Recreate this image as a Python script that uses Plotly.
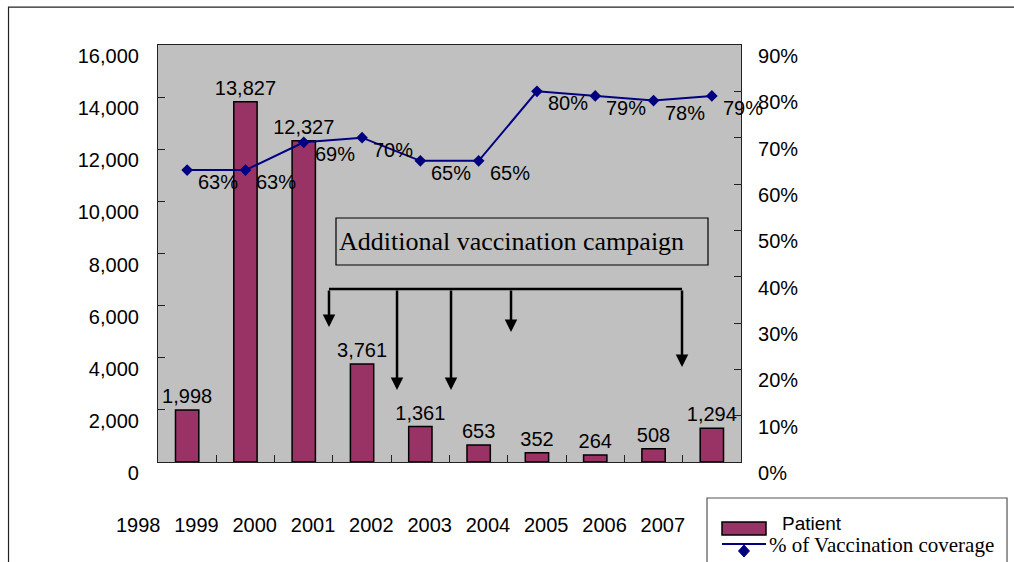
import plotly.graph_objects as go

# ---- data ----
years = ["1998", "1999", "2000", "2001", "2002", "2003", "2004", "2005", "2006", "2007"]
patients = [1998, 13827, 12327, 3761, 1361, 653, 352, 264, 508, 1294]
coverage = [0.63, 0.63, 0.69, 0.70, 0.65, 0.65, 0.80, 0.79, 0.78, 0.79]
coverage_labels = ["63%", "63%", "69%", "70%", "65%", "65%", "80%", "79%", "78%", "79%"]

SANS = "Liberation Sans"
SERIF = "Liberation Serif"
BAR_COLOR = "#993366"
LINE_COLOR = "#000080"
AX_COLOR = "#222222"

fig = go.Figure()

fig.add_trace(go.Bar(
    x=years, y=patients, name="Patient", width=0.4,
    marker=dict(color=BAR_COLOR, line=dict(color="black", width=1.5)),
    text=[f"{v:,}" for v in patients], textposition="outside",
    textfont=dict(family=SANS, size=20, color="black"),
    constraintext="none",
    cliponaxis=False, showlegend=False,
))

fig.add_trace(go.Scatter(
    x=years, y=coverage, name="% of Vaccination coverage", yaxis="y2",
    mode="lines+markers",
    line=dict(color=LINE_COLOR, width=2),
    marker=dict(symbol="diamond", size=9, color=LINE_COLOR),
    showlegend=False, cliponaxis=False,
))

annotations = []
# percentage labels to the lower right of each point
for i, lab in enumerate(coverage_labels):
    annotations.append(dict(
        x=i, y=coverage[i], xref="x", yref="y2", text=lab, showarrow=False,
        xshift=31, yshift=-12, font=dict(family=SANS, size=20, color="black"),
    ))

# campaign text box
annotations.append(dict(
    x=2.57, y=8460, xref="x", yref="y", text="Additional vaccination campaign",
    showarrow=False, xanchor="left", yanchor="middle",
    font=dict(family=SERIF, size=26, color="black"),
))

# campaign arrows
arrow_x = [2.433, 3.60, 4.526, 5.555, 8.488]
arrow_tip = [5180, 2763, 2763, 4988, 3645]
arrow_top = 6638
for ax_, tip in zip(arrow_x, arrow_tip):
    annotations.append(dict(
        x=ax_, y=tip, xref="x", yref="y", ax=ax_, ay=arrow_top, axref="x", ayref="y",
        text="", showarrow=True, arrowhead=2, arrowsize=1, arrowwidth=2.5,
        arrowcolor="black", standoff=0, startstandoff=0,
    ))

# custom legend texts
annotations.append(dict(
    x=1.0669, y=-0.1463, xref="paper", yref="paper", text="Patient",
    showarrow=False, xanchor="left", yanchor="middle",
    font=dict(family=SANS, size=19, color="black"),
))
annotations.append(dict(
    x=1.0446, y=-0.199, xref="paper", yref="paper", text="% of Vaccination coverage",
    showarrow=False, xanchor="left", yanchor="middle",
    font=dict(family=SERIF, size=21, color="black"),
))

shapes = [
    # text box
    dict(type="rect", xref="x", yref="y", x0=2.553, x1=8.934, y0=7559, y1=9362,
         line=dict(color="black", width=1.2), fillcolor="rgba(0,0,0,0)"),
    # horizontal arrow bar
    dict(type="line", xref="x", yref="y", x0=2.433, x1=8.488, y0=arrow_top, y1=arrow_top,
         line=dict(color="black", width=2.5)),
    # outer chart border
    dict(type="rect", xref="paper", yref="paper", x0=-0.2564, x1=1.5, y0=-0.35, y1=1.091,
         line=dict(color=AX_COLOR, width=1.2), fillcolor="rgba(0,0,0,0)", layer="below"),
    # legend box
    dict(type="rect", xref="paper", yref="paper", x0=0.9417, x1=1.4563, y0=-0.30, y1=-0.0863,
         line=dict(color="#555555", width=1.2), fillcolor="white"),
    # legend bar swatch
    dict(type="rect", xref="paper", yref="paper", x0=0.9674, x1=1.0429, y0=-0.1751, y1=-0.1439,
         line=dict(color="black", width=1.5), fillcolor=BAR_COLOR),
    # legend line
    dict(type="line", xref="paper", yref="paper", x0=0.9674, x1=1.0429, y0=-0.1966, y1=-0.1966,
         line=dict(color=LINE_COLOR, width=2)),
    # legend diamond
    dict(type="path", xref="paper", yref="paper", xsizemode="pixel", ysizemode="pixel",
         xanchor=1.0051, yanchor=-0.2134, path="M0,6 L5.5,0 L0,-6 L-5.5,0 Z",
         fillcolor=LINE_COLOR, line=dict(color=LINE_COLOR, width=1)),
]

fig.update_layout(
    width=1014, height=562,
    margin=dict(l=158, r=273, t=45, b=100),
    paper_bgcolor="white", plot_bgcolor="#C0C0C0",
    font=dict(family=SANS, size=20, color="black"),
    showlegend=False,
    annotations=annotations, shapes=shapes,
    xaxis=dict(
        type="category", categoryorder="array", categoryarray=years,
        range=[-0.5, 9.5], autorange=False,
        tickson="boundaries", ticks="inside", ticklen=7, tickcolor=AX_COLOR,
        showline=True, linecolor=AX_COLOR, linewidth=1.2, mirror=True,
        showgrid=False, zeroline=False,
        tickfont=dict(family=SANS, size=20, color="black"),
        ticklabelshift=-49, ticklabelstandoff=45,
    ),
    yaxis=dict(
        range=[0, 16000], dtick=2000, tickformat=",d",
        ticks="inside", ticklen=7, tickcolor=AX_COLOR,
        showline=True, linecolor=AX_COLOR, linewidth=1.2,
        showgrid=False, zeroline=False,
        tickfont=dict(family=SANS, size=20, color="black"),
        ticklabelshift=11, ticklabelstandoff=14,
    ),
    yaxis2=dict(
        range=[0, 0.9], dtick=0.1, tickformat=".0%", overlaying="y", side="right",
        ticks="inside", ticklen=7, tickcolor=AX_COLOR,
        showline=True, linecolor=AX_COLOR, linewidth=1.2,
        showgrid=False, zeroline=False,
        tickfont=dict(family=SANS, size=20, color="black"),
        ticklabelshift=11, ticklabelstandoff=12,
    ),
)

fig.write_html("out.html")
